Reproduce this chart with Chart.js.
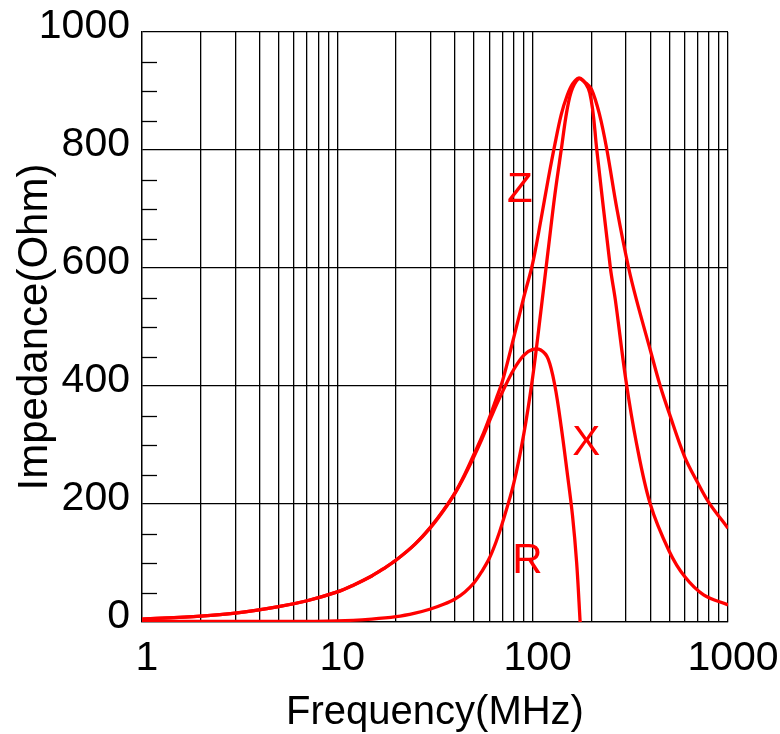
<!DOCTYPE html>
<html>
<head>
<meta charset="utf-8">
<script src="https://cdn.jsdelivr.net/npm/chart.js@4.4.1/dist/chart.umd.min.js"></script>
<style>
  html, body { margin: 0; padding: 0; background: #fff; }
</style>
</head>
<body>
<canvas id="myChart" width="780" height="734"></canvas>
<script>
// impedance of the bead

// |Z|
const zFreq = [1, 2, 3, 5, 7, 10, 12, 15, 17, 20, 25, 30, 35, 40, 45, 50, 55, 60, 65, 70, 80, 90, 100, 110, 120, 130, 140, 150, 160, 172, 185, 200, 220, 240, 270, 310, 340, 400, 450, 500, 600, 700, 800, 1000];
const zOhm  = [5, 10, 15, 26, 36, 51, 62, 78, 89, 105, 132, 161, 190, 219, 251, 284, 314, 346, 378, 408, 482, 550, 608, 680, 750, 810, 860, 892, 912, 922, 915, 903, 860, 800, 700, 600, 546, 461, 400, 354, 280, 236, 202, 159];

// X (reactance), stops where it hits 0
const xFreq = [1, 2, 3, 5, 7, 10, 12, 15, 17, 20, 25, 30, 35, 40, 45, 50, 55, 60, 65, 70, 80, 90, 100, 110, 120, 130, 140, 150, 160, 168, 175];
const xOhm  = [5, 10, 15, 26, 36, 51, 62, 78, 89, 105, 132, 160, 189, 218, 249, 280, 310, 340, 367, 390, 428, 452, 462, 461, 446, 400, 331, 255, 180, 100, 0];

// R (resistance)
const rFreq = [1, 5, 10, 15, 20, 25, 30, 35, 40, 45, 50, 55, 60, 65, 70, 80, 90, 100, 110, 120, 130, 140, 150, 160, 175, 196, 213, 250, 265, 300, 340, 400, 500, 600, 750, 1000];
const rOhm  = [1, 1, 2, 5, 9, 15, 22, 30, 39, 51, 66, 86, 108, 136, 168, 235, 318, 415, 525, 630, 725, 800, 868, 905, 921, 897, 800, 600, 546, 410, 303, 200, 120, 77, 46, 29];

// axes
const freqTicks = [1, 2, 3, 4, 5, 6, 7, 8, 9, 10, 20, 30, 40, 50, 60, 70, 80, 90, 100, 200, 300, 400, 500, 600, 700, 800, 900, 1000];
const ohmTicks = [0, 50, 100, 150, 200, 250, 300, 350, 400, 450, 500, 550, 600, 650, 700, 750, 800, 850, 900, 950, 1000];

// curve names written inside the plot
const curveNames = ['Z', 'X', 'R'];
const nameFreq = [86, 188, 94];
const nameOhm = [731, 302, 103];

const FONT = '"Liberation Sans", Arial, sans-serif';

function pts(f, v) {
    return f.map((x, i) => ({ x: x, y: v[i] }));
}

const extras = {
    id: 'extras',
    beforeDatasetsDraw(chart) {
        // short minor ticks on the inside of the left edge
        const { ctx, chartArea, scales: { y } } = chart;
        ctx.save();
        ctx.strokeStyle = '#000';
        ctx.lineWidth = 1.3;
        ohmTicks.forEach(v => {
            if (v % 200 === 0) return;
            const py = Math.round(y.getPixelForValue(v)) + 0.5;
            ctx.beginPath();
            ctx.moveTo(chartArea.left, py);
            ctx.lineTo(chartArea.left + 15, py);
            ctx.stroke();
        });
        ctx.restore();
    },
    afterDatasetsDraw(chart) {
        const { ctx, scales: { x, y } } = chart;
        ctx.save();
        ctx.fillStyle = '#ff0000';
        ctx.font = '42px ' + FONT;
        ctx.textAlign = 'center';
        ctx.textBaseline = 'middle';
        curveNames.forEach((name, i) => {
            ctx.fillText(name, x.getPixelForValue(nameFreq[i]), y.getPixelForValue(nameOhm[i]));
        });
        ctx.restore();
    }
};

const line = {
    borderColor: '#ff0000',
    borderWidth: 3.3,
    pointRadius: 0,
    tension: 0.35,
    fill: false
};

const ctx = document.getElementById('myChart').getContext('2d');
const myChart = new Chart(ctx, {
    type: 'line',
    data: {
        datasets: [
            Object.assign({ label: 'Z', data: pts(zFreq, zOhm) }, line),
            Object.assign({ label: 'X', data: pts(xFreq, xOhm) }, line),
            Object.assign({ label: 'R', data: pts(rFreq, rOhm) }, line)
        ]
    },
    options: {
        responsive: false,
        animation: false,
        layout: { padding: { top: 32, right: 52, left: 0, bottom: 0 } },
        plugins: {
            legend: { display: false },
            tooltip: { enabled: false }
        },
        scales: {
            x: {
                type: 'logarithmic',
                min: 1,
                max: 1000,
                afterBuildTicks: s => { s.ticks = freqTicks.map(v => ({ value: v })); },
                afterFit: s => { s.height = 112; s.paddingLeft = 0; s.paddingRight = 0; },
                grid: { color: '#000', lineWidth: 1.3, drawTicks: false },
                border: { color: '#000', width: 1.3 },
                ticks: {
                    autoSkip: false,
                    maxRotation: 0,
                    padding: 12,
                    labelOffset: 5,
                    color: '#000',
                    font: { family: FONT, size: 41 },
                    callback: v => Number.isInteger(Math.log10(v)) ? String(v) : ''
                },
                title: {
                    display: true,
                    text: 'Frequency(MHz)',
                    color: '#000',
                    font: { family: FONT, size: 40, lineHeight: 1 },
                    padding: { top: 0, bottom: 1 }
                }
            },
            y: {
                min: 0,
                max: 1000,
                afterBuildTicks: s => { s.ticks = ohmTicks.map(v => ({ value: v })); },
                afterFit: s => { s.width = 142; s.paddingTop = 0; s.paddingBottom = 0; },
                grid: {
                    color: c => (c.tick && c.tick.value % 200 === 0) ? '#000' : 'rgba(0,0,0,0)',
                    lineWidth: 1.3,
                    drawTicks: false
                },
                border: { color: '#000', width: 1.3 },
                ticks: {
                    autoSkip: false,
                    padding: 12,
                    labelOffset: -5,
                    color: '#000',
                    font: { family: FONT, size: 41 },
                    callback: v => v % 200 === 0 ? String(v) : ''
                },
                title: {
                    display: true,
                    text: 'Impedance(Ohm)',
                    color: '#000',
                    font: { family: FONT, size: 42, lineHeight: 1 },
                    padding: { top: 14, bottom: 0 }
                }
            }
        }
    },
    plugins: [extras]
});
</script>
</body>
</html>
